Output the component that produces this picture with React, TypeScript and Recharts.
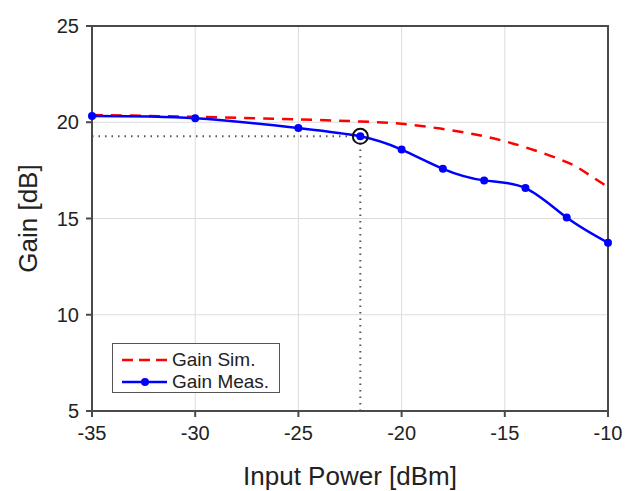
import {
  CartesianGrid,
  Legend,
  Line,
  LineChart,
  ReferenceArea,
  ReferenceDot,
  ReferenceLine,
  XAxis,
  YAxis,
} from 'recharts'

const xTicks = [-35, -30, -25, -20, -15, -10]
const yTicks = [5, 10, 15, 20, 25]

// simulated gain (red dashed)
const simPower = [-35, -30, -25, -22, -20, -18, -16, -14, -12, -11, -10]
const simGain = [20.38, 20.28, 20.15, 20.04, 19.92, 19.65, 19.27, 18.7, 17.93, 17.33, 16.64]

// measured gain (blue with dots)
const measPower = [-35, -30, -25, -22, -20, -18, -16, -14, -12, -10]
const measGain = [20.33, 20.21, 19.7, 19.27, 18.58, 17.58, 16.98, 16.58, 15.05, 13.74]

// 1 dB compression marker
const markPower = -22
const markGain = 19.27

const simData = simPower.map((x, i) => ({ x, gain: simGain[i] }))
const measData = measPower.map((x, i) => ({ x, gain: measGain[i] }))

const font = 'Liberation Sans, Arial, sans-serif'
const frame = '#4a4a4a'

function LegendBox() {
  return (
    <div
      style={{
        position: 'relative',
        border: '1px solid #555',
        background: '#fff',
        width: 168,
        height: 50,
        fontFamily: font,
        fontSize: 19,
        color: '#222',
        boxSizing: 'border-box',
      }}
    >
      <svg width={168} height={50} style={{ position: 'absolute', left: -1, top: -1 }}>
        <line x1={10} y1={17} x2={55} y2={17} stroke="#ff0000" strokeWidth={2.5} strokeDasharray="11 6" />
        <line x1={10} y1={39} x2={55} y2={39} stroke="#0000ff" strokeWidth={2.5} />
        <circle cx={33} cy={39} r={4} fill="#0000ff" />
      </svg>
      <div style={{ position: 'absolute', left: 59, top: 5, lineHeight: '22px', whiteSpace: 'nowrap' }}>Gain Sim.</div>
      <div style={{ position: 'absolute', left: 59, top: 27, lineHeight: '22px', whiteSpace: 'nowrap' }}>Gain Meas.</div>
    </div>
  )
}

export default function App() {
  return (
    <div style={{ position: 'absolute', left: 0, top: 0, width: 635, height: 491, background: '#fff' }}>
      <LineChart width={635} height={491} margin={{ top: 26, right: 27, left: 28, bottom: 6 }}>
        <CartesianGrid stroke="#dcdcdc" strokeWidth={1} />
        <XAxis
          type="number"
          dataKey="x"
          domain={[-35, -10]}
          ticks={xTicks}
          allowDuplicatedCategory={false}
          stroke={frame}
          strokeWidth={2}
          tickSize={6}
          tickMargin={9}
          height={74}
          tick={{ fill: '#222', fontSize: 20, fontFamily: font }}
          label={{ value: 'Input Power [dBm]', position: 'insideBottom', offset: 0, fill: '#222', fontSize: 26, fontFamily: font }}
        />
        <YAxis
          type="number"
          domain={[5, 25]}
          ticks={yTicks}
          stroke={frame}
          strokeWidth={2}
          tickSize={6}
          tickMargin={7}
          width={64}
          tick={{ fill: '#222', fontSize: 20, fontFamily: font }}
          label={{ value: 'Gain [dB]', angle: -90, position: 'insideLeft', offset: 0, fill: '#222', fontSize: 26, fontFamily: font, style: { textAnchor: 'middle' } }}
        />
        <ReferenceArea x1={-35} x2={-10} y1={5} y2={25} fill="none" stroke={frame} strokeWidth={2} />
        <ReferenceLine
          segment={[{ x: -35, y: markGain }, { x: markPower, y: markGain }]}
          stroke="#555"
          strokeWidth={2}
          strokeDasharray="1.5 5"
        />
        <ReferenceLine
          segment={[{ x: markPower, y: 5 }, { x: markPower, y: markGain }]}
          stroke="#555"
          strokeWidth={2}
          strokeDasharray="1.5 5"
        />
        <Line
          data={simData}
          dataKey="gain"
          type="natural"
          stroke="#ff0000"
          strokeWidth={2.5}
          strokeDasharray="11 8"
          dot={false}
          isAnimationActive={false}
        />
        <Line
          data={measData}
          dataKey="gain"
          type="natural"
          stroke="#0000ff"
          strokeWidth={2.5}
          dot={{ r: 4, fill: '#0000ff', stroke: '#0000ff', strokeWidth: 0 }}
          isAnimationActive={false}
        />
        <ReferenceDot x={markPower} y={markGain} r={7.5} fill="none" stroke="#111" strokeWidth={2} />
        <Legend
          layout="horizontal"
          align="center"
          verticalAlign="middle"
          wrapperStyle={{ position: 'absolute', left: 112, top: 343, width: 168, height: 50 }}
          content={() => <LegendBox />}
        />
      </LineChart>
    </div>
  )
}
